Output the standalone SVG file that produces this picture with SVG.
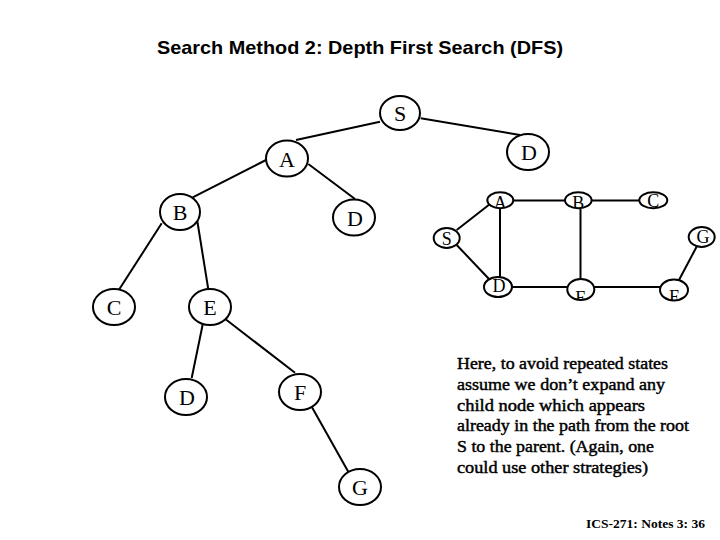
<svg xmlns="http://www.w3.org/2000/svg" width="720" height="540" viewBox="0 0 720 540">
<style>
.n ellipse{fill:#fff;stroke:#000;stroke-width:2}
.n text{font-family:"Liberation Serif","Times New Roman",serif;font-size:22px;text-anchor:middle;fill:#000}
.s ellipse{fill:none;stroke:#000;stroke-width:2}
.s .bg{fill:#fff;stroke:none}
.s text{font-family:"Liberation Serif","Times New Roman",serif;font-size:18px;text-anchor:middle;fill:#000}
.e line{stroke:#000;stroke-width:2}
.p{font-family:"Liberation Serif","Times New Roman",serif;font-size:17px;fill:#000;stroke:#000;stroke-width:0.45}
</style>
<defs>
<clipPath id="cA"><ellipse cx="500.3" cy="200.3" rx="13" ry="8"/></clipPath>
<clipPath id="cB"><ellipse cx="578.3" cy="200.3" rx="13.3" ry="8"/></clipPath>
<clipPath id="cC"><ellipse cx="653.3" cy="200.3" rx="14" ry="8"/></clipPath>
<clipPath id="cS"><ellipse cx="446.7" cy="238" rx="13" ry="10"/></clipPath>
<clipPath id="cG"><ellipse cx="701.7" cy="237" rx="13" ry="10"/></clipPath>
<clipPath id="cD"><ellipse cx="498" cy="287" rx="14" ry="10"/></clipPath>
<clipPath id="cE"><ellipse cx="580.8" cy="289.5" rx="13.5" ry="10.5"/></clipPath>
<clipPath id="cF"><ellipse cx="674" cy="290" rx="14" ry="10.5"/></clipPath>
</defs>
<rect width="720" height="540" fill="#fff"/>
<text x="360" y="54" text-anchor="middle" font-family="Liberation Sans, Arial, sans-serif" font-weight="bold" font-size="19" textLength="406" lengthAdjust="spacingAndGlyphs">Search Method 2: Depth First Search (DFS)</text>

<g id="tree-edges" class="e">
<line x1="380" y1="121.7" x2="296" y2="140"/>
<line x1="420.7" y1="118.3" x2="520" y2="135"/>
<line x1="266" y1="160" x2="192.7" y2="197.3"/>
<line x1="308.3" y1="164" x2="355" y2="199"/>
<line x1="161.7" y1="223.3" x2="119.3" y2="289.3"/>
<line x1="197.3" y1="221" x2="208.3" y2="289.3"/>
<line x1="203" y1="323" x2="191.7" y2="378"/>
<line x1="224" y1="318" x2="295" y2="372.7"/>
<line x1="311.7" y1="406.7" x2="348.3" y2="471.7"/>
</g>

<g id="t-S" class="n"><ellipse cx="400" cy="113" rx="20" ry="17"/><text x="400" y="121">S</text></g>
<g id="t-A" class="n"><ellipse cx="287" cy="158.5" rx="21" ry="18"/><text x="287" y="166.5">A</text></g>
<g id="t-D1" class="n"><ellipse cx="528" cy="152" rx="21" ry="18"/><text x="529" y="160">D</text></g>
<g id="t-B" class="n"><ellipse cx="180" cy="212" rx="20" ry="18"/><text x="180" y="220">B</text></g>
<g id="t-D2" class="n"><ellipse cx="354" cy="217.5" rx="21" ry="18"/><text x="355" y="225.5">D</text></g>
<g id="t-C" class="n"><ellipse cx="114" cy="307" rx="21" ry="18"/><text x="114" y="315">C</text></g>
<g id="t-E" class="n"><ellipse cx="210" cy="307" rx="21" ry="18"/><text x="210" y="315">E</text></g>
<g id="t-D3" class="n"><ellipse cx="186" cy="397" rx="21" ry="18"/><text x="187" y="405">D</text></g>
<g id="t-F" class="n"><ellipse cx="300" cy="392" rx="21" ry="18"/><text x="300" y="400">F</text></g>
<g id="t-G" class="n"><ellipse cx="360" cy="487" rx="21" ry="18"/><text x="360" y="495">G</text></g>

<g id="graph-edges" class="e">
<line x1="513.3" y1="200.5" x2="565" y2="200.5"/>
<line x1="591.6" y1="200.5" x2="639.3" y2="200.5"/>
<line x1="456.7" y1="230" x2="490" y2="204"/>
<line x1="456.7" y1="245" x2="489" y2="279"/>
<line x1="500" y1="208" x2="500" y2="277"/>
<line x1="580.5" y1="208" x2="580.5" y2="279"/>
<line x1="512" y1="287" x2="567.3" y2="287"/>
<line x1="594.3" y1="287" x2="660" y2="287"/>
<line x1="679" y1="280" x2="697" y2="246"/>
</g>

<g id="g-A" class="s"><ellipse class="bg" cx="500.3" cy="200.3" rx="13" ry="8"/><text x="500.3" y="209" clip-path="url(#cA)">A</text><ellipse cx="500.3" cy="200.3" rx="13" ry="8"/></g>
<g id="g-B" class="s"><ellipse class="bg" cx="578.3" cy="200.3" rx="13.3" ry="8"/><text x="578.3" y="209" clip-path="url(#cB)">B</text><ellipse cx="578.3" cy="200.3" rx="13.3" ry="8"/></g>
<g id="g-C" class="s"><ellipse class="bg" cx="653.3" cy="200.3" rx="14" ry="8"/><text x="653.3" y="207" clip-path="url(#cC)">C</text><ellipse cx="653.3" cy="200.3" rx="14" ry="8"/></g>
<g id="g-S" class="s"><ellipse class="bg" cx="446.7" cy="238" rx="13" ry="10"/><text x="446.7" y="245" clip-path="url(#cS)">S</text><ellipse cx="446.7" cy="238" rx="13" ry="10"/></g>
<g id="g-G" class="s"><ellipse class="bg" cx="701.7" cy="237" rx="13" ry="10"/><text x="703" y="243" clip-path="url(#cG)">G</text><ellipse cx="701.7" cy="237" rx="13" ry="10"/></g>
<g id="g-D" class="s"><ellipse class="bg" cx="498" cy="287" rx="14" ry="10"/><text x="499" y="292" clip-path="url(#cD)">D</text><ellipse cx="498" cy="287" rx="14" ry="10"/></g>
<g id="g-E" class="s"><ellipse class="bg" cx="580.8" cy="289.5" rx="13.5" ry="10.5"/><text x="580.8" y="304" clip-path="url(#cE)">E</text><ellipse cx="580.8" cy="289.5" rx="13.5" ry="10.5"/></g>
<g id="g-F" class="s"><ellipse class="bg" cx="674" cy="290" rx="14" ry="10.5"/><text x="674" y="303" clip-path="url(#cF)">F</text><ellipse cx="674" cy="290" rx="14" ry="10.5"/></g>

<g id="note" class="p">
<text x="457" y="368.5" textLength="211" lengthAdjust="spacingAndGlyphs">Here, to avoid repeated states</text>
<text x="457" y="389.5" textLength="208" lengthAdjust="spacingAndGlyphs">assume we don’t expand any</text>
<text x="457" y="410.5" textLength="188" lengthAdjust="spacingAndGlyphs">child node which appears</text>
<text x="457" y="431" textLength="232" lengthAdjust="spacingAndGlyphs">already in the path from the root</text>
<text x="457" y="452" textLength="197" lengthAdjust="spacingAndGlyphs">S to the parent. (Again, one</text>
<text x="457" y="473" textLength="191" lengthAdjust="spacingAndGlyphs">could use other strategies)</text>
</g>
<text x="586" y="528" font-family="Liberation Serif, Times New Roman, serif" font-weight="bold" font-size="13" textLength="119" lengthAdjust="spacingAndGlyphs">ICS-271: Notes 3: 36</text>
</svg>
